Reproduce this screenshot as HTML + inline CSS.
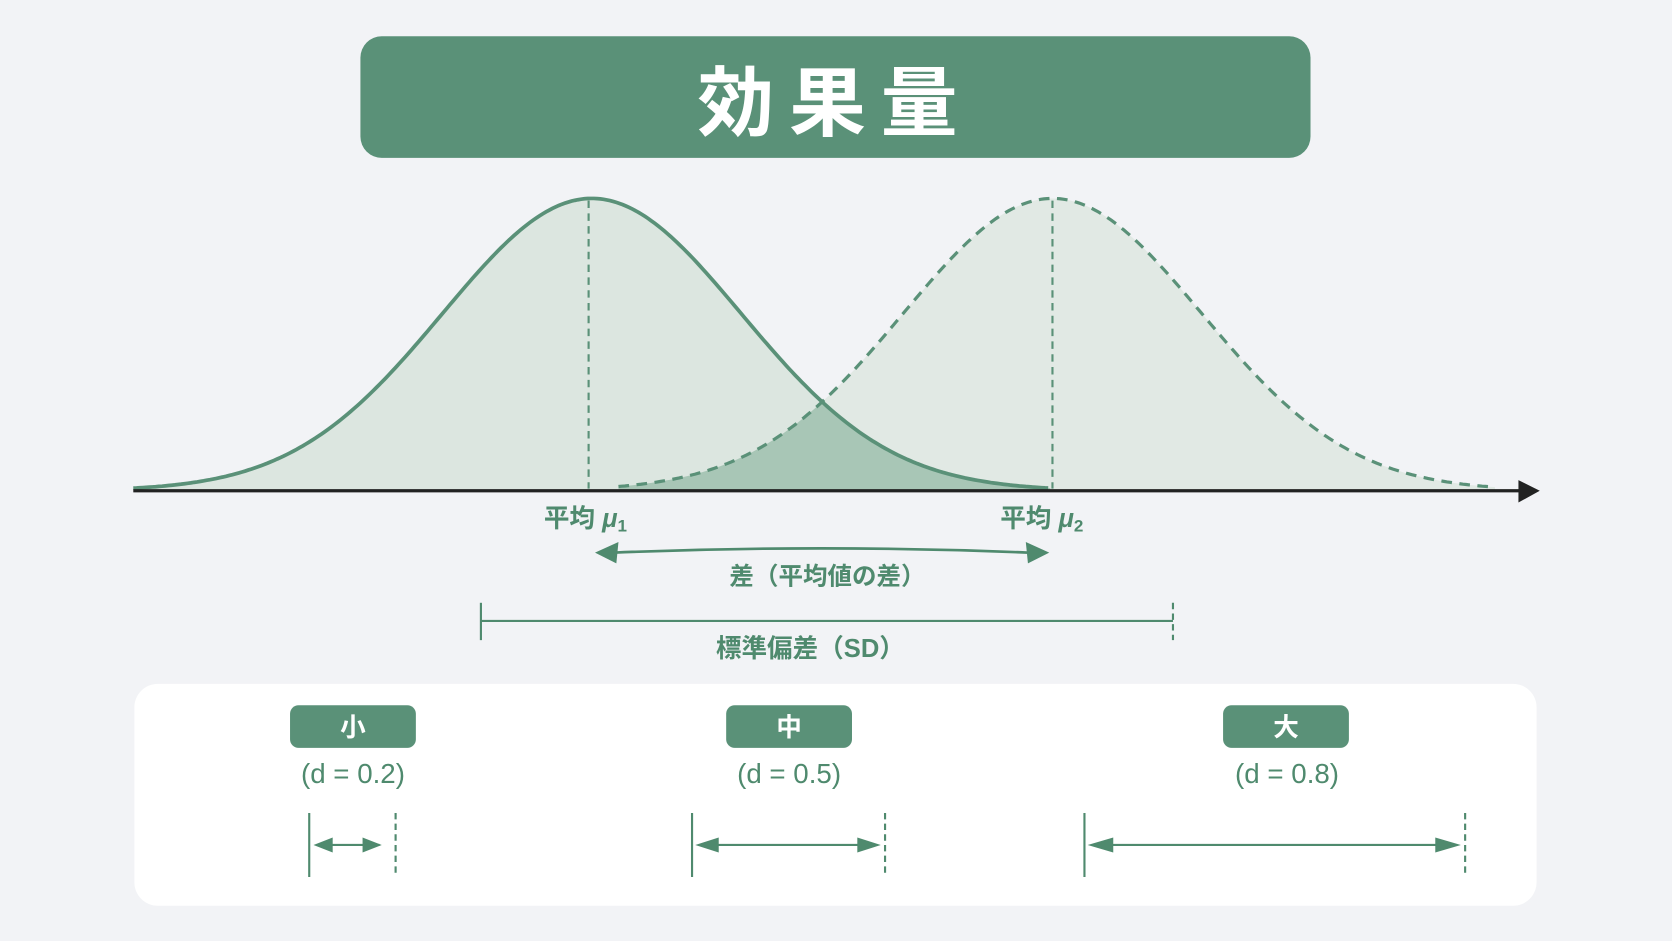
<!DOCTYPE html>
<html><head><meta charset="utf-8"><style>
html,body{margin:0;padding:0;background:#f2f3f6;}
svg{display:block}
text{font-family:"Liberation Sans","Noto Sans CJK JP",sans-serif;}
</style></head><body>
<svg id="s" width="1672" height="941" viewBox="0 0 1568 882" preserveAspectRatio="none" xmlns="http://www.w3.org/2000/svg">
<rect width="1568" height="882" fill="#f2f3f6"/>
<rect x="338" y="34" width="891" height="114" rx="20" fill="#5a9178"/>
<text x="783" y="122" text-anchor="middle" font-size="72" font-weight="bold" fill="#fff" letter-spacing="14">効果量</text>
<g id="curves"></g>
<line x1="125" y1="460" x2="1425" y2="460" stroke="#222" stroke-width="3"/>
<polygon points="1424,450 1444,460 1424,471" fill="#222"/>
<line x1="552" y1="188" x2="552" y2="458" stroke="#5a9178" stroke-width="2" stroke-dasharray="7,5"/>
<line x1="987" y1="188" x2="987" y2="458" stroke="#5a9178" stroke-width="2" stroke-dasharray="7,5"/>
<text x="510" y="494" font-size="24" font-weight="bold" fill="#4f8a6e">平均 <tspan font-style="italic">μ</tspan><tspan font-size="16" dy="4">1</tspan></text>
<text x="938" y="494" font-size="24" font-weight="bold" fill="#4f8a6e">平均 <tspan font-style="italic">μ</tspan><tspan font-size="16" dy="4">2</tspan></text>
<path d="M575 518 Q770 510 965 518" stroke="#4f8a6e" stroke-width="2.5" fill="none"/>
<polygon points="558,518 580,508 578,528" fill="#4f8a6e"/>
<polygon points="984,518 962,508 964,528" fill="#4f8a6e"/>
<text x="776" y="548" text-anchor="middle" font-size="23" font-weight="bold" fill="#4f8a6e">差（平均値の差）</text>
<line x1="451" y1="582" x2="1100" y2="582" stroke="#4f8a6e" stroke-width="2"/>
<line x1="451" y1="565" x2="451" y2="600" stroke="#4f8a6e" stroke-width="2"/>
<line x1="1100" y1="565" x2="1100" y2="600" stroke="#4f8a6e" stroke-width="2" stroke-dasharray="6,4"/>
<text x="760" y="616" text-anchor="middle" font-size="24" font-weight="bold" fill="#4f8a6e">標準偏差（SD）</text>
<rect x="126" y="641" width="1315" height="208" rx="22" fill="#fff"/>
<g fill="#5a9178">
<rect x="272" y="661" width="118" height="40" rx="8"/>
<rect x="681" y="661" width="118" height="40" rx="8"/>
<rect x="1147" y="661" width="118" height="40" rx="8"/>
</g>
<g font-size="24" font-weight="bold" fill="#fff" text-anchor="middle">
<text x="331" y="690">小</text><text x="740" y="690">中</text><text x="1206" y="690">大</text>
</g>
<g font-size="26" fill="#4f8a6e" text-anchor="middle">
<text x="331" y="734">(d = 0.2)</text><text x="740" y="734">(d = 0.5)</text><text x="1207" y="734">(d = 0.8)</text>
</g>
<g stroke="#4f8a6e" stroke-width="2" fill="none">
<line x1="290" y1="762" x2="290" y2="822"/><line x1="371" y1="762" x2="371" y2="822" stroke-dasharray="6,4"/>
<line x1="298" y1="792" x2="356" y2="792"/>
<line x1="649" y1="762" x2="649" y2="822"/><line x1="830" y1="762" x2="830" y2="822" stroke-dasharray="6,4"/>
<line x1="660" y1="792" x2="820" y2="792"/>
<line x1="1017" y1="762" x2="1017" y2="822"/><line x1="1374" y1="762" x2="1374" y2="822" stroke-dasharray="6,4"/>
<line x1="1030" y1="792" x2="1364" y2="792"/>
</g>
<g fill="#4f8a6e">
<polygon points="294,792 312,785 312,799"/><polygon points="358,792 340,785 340,799"/>
<polygon points="652,792 674,785 674,799"/><polygon points="826,792 804,785 804,799"/>
<polygon points="1020,792 1044,785 1044,799"/><polygon points="1370,792 1346,785 1346,799"/>
</g>
</svg>
<script>
(function(){
var B=460,H=274,S=140;
function g(m,x){return B-H*Math.exp(-((x-m)*(x-m))/(2*S*S));}
function path(m,a,b,f){var d="";for(var x=a;x<=b;x+=3){d+=(x==a?"M":"L")+x+" "+f(x).toFixed(1)+" ";}return d;}
var c1=function(x){return g(555,x)},c2=function(x){return g(987,x)},mn=function(x){return Math.max(c1(x),c2(x));};
var p1=path(125,125,985,c1),p2=path(987,580,1402,c2),p3=path(0,580,985,mn);
document.getElementById("curves").innerHTML=
'<path d="'+p2+' L1402 460 L580 460Z" fill="#e1e9e4"/>'+
'<path d="'+p1+' L985 460 L125 460Z" fill="#dce6e0"/>'+
'<path d="'+p3+' L985 460 L580 460Z" fill="#a8c6b6"/>'+
'<path d="'+p2+'" fill="none" stroke="#5a9178" stroke-width="3" stroke-dasharray="10,7"/>'+
'<path d="'+p1+'" fill="none" stroke="#5a9178" stroke-width="3.5"/>';
})();
</script>
</body></html>
